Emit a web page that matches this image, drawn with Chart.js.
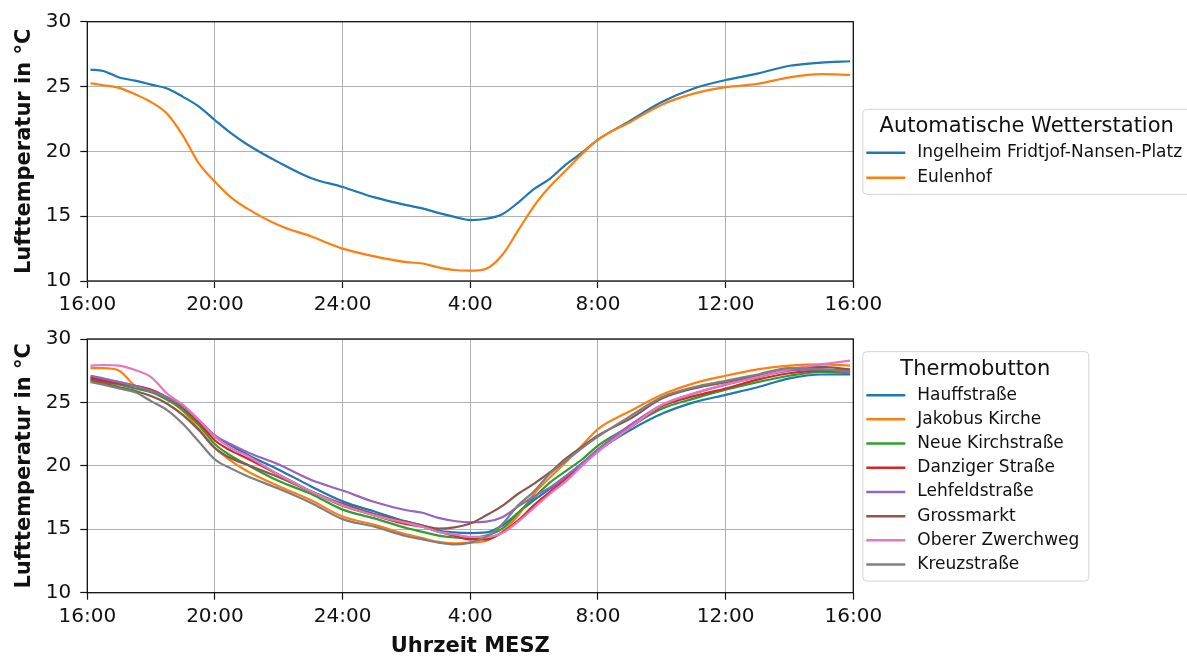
<!DOCTYPE html>
<html>
<head>
<meta charset="utf-8">
<script src="https://cdn.jsdelivr.net/npm/chart.js@4"></script>
<style>
    html, body { margin: 0; padding: 0; background: #fff; overflow: hidden; }
    #oben { position: absolute; left: 0; top: 0; }
    #unten { position: absolute; left: 0; top: 318px; }
</style>
</head>
<body>
<canvas id="oben" width="1187" height="318"></canvas>
<canvas id="unten" width="1187" height="339"></canvas>
<script>
// Stunden seit 16:00 MESZ
const stunden = [0.1, 0.5, 1, 1.5, 2, 2.5, 3, 3.5, 4, 4.5, 5, 6, 7, 8, 9, 10,
    10.5, 11, 11.5, 12, 12.5, 13, 13.5, 14, 14.5, 15, 15.5, 16, 17, 18, 19, 20, 21, 22, 23, 23.9];
const tickStunden = [0, 4, 8, 12, 16, 20, 24];
const tickLabels = ["16:00", "20:00", "24:00", "4:00", "8:00", "12:00", "16:00"];

// Automatische Wetterstation
const stationNamen = ["Ingelheim Fridtjof-Nansen-Platz", "Eulenhof"];
const ingelheim = [26.3, 26.2, 25.7, 25.45, 25.15, 24.85, 24.2, 23.45, 22.4, 21.4, 20.55, 19.15, 17.95, 17.25, 16.45, 15.85,
    15.6, 15.25, 14.95, 14.7, 14.8, 15.15, 16.05, 17.1, 17.9, 19.0, 19.9, 20.9, 22.35, 23.8, 24.85, 25.5, 26.0, 26.6, 26.85, 26.95];
const eulenhof = [25.25, 25.1, 24.9, 24.4, 23.8, 22.9, 21.2, 19.05, 17.65, 16.45, 15.6, 14.3, 13.45, 12.5, 11.9, 11.45,
    11.35, 11.05, 10.85, 10.8, 10.95, 12.0, 13.9, 15.8, 17.3, 18.55, 19.8, 20.9, 22.25, 23.6, 24.45, 24.95, 25.2, 25.7, 25.95, 25.9];

// Thermobutton
const buttonNamen = ["Hauffstraße", "Jakobus Kirche", "Neue Kirchstraße", "Danziger Straße",
    "Lehfeldstraße", "Grossmarkt", "Oberer Zwerchweg", "Kreuzstraße"];
const hauff = [27.0, 26.8, 26.6, 26.3, 25.9, 25.4, 24.6, 23.5, 22.3, 21.6, 20.9, 19.7, 18.4, 17.2, 16.4, 15.6,
    15.3, 14.9, 14.75, 14.7, 14.75, 15.3, 16.3, 17.3, 18.2, 19.2, 20.2, 21.2, 22.8, 24.1, 25.0, 25.6, 26.2, 26.9, 27.2, 27.2];
const jakobus = [27.7, 27.7, 27.5, 26.3, 25.9, 25.3, 24.3, 22.9, 21.4, 20.4, 19.6, 18.4, 17.3, 16.0, 15.35, 14.6,
    14.3, 14.0, 13.9, 13.95, 14.1, 14.8, 16.1, 17.8, 19.1, 20.3, 21.6, 22.9, 24.3, 25.6, 26.5, 27.1, 27.6, 27.9, 28.0, 27.9];
const neueKirch = [26.8, 26.6, 26.4, 26.1, 25.8, 25.2, 24.4, 23.2, 21.7, 20.8, 20.1, 18.8, 17.8, 16.55, 15.86, 15.1,
    14.8, 14.5, 14.35, 14.3, 14.5, 15.05, 16.3, 17.5, 18.7, 19.6, 20.5, 21.6, 23.1, 24.5, 25.3, 26.0, 26.6, 27.1, 27.4, 27.3];
const danziger = [26.9, 26.7, 26.5, 26.3, 26.0, 25.4, 24.6, 23.4, 22.0, 21.2, 20.6, 19.3, 18.0, 16.85, 16.1, 15.4,
    15.2, 14.8, 14.5, 14.2, 14.2, 14.75, 15.7, 16.9, 17.95, 19.0, 20.1, 21.3, 23.0, 24.7, 25.5, 26.1, 26.8, 27.3, 27.5, 27.4];
const lehfeld = [27.1, 26.9, 26.6, 26.3, 25.9, 25.4, 24.7, 23.6, 22.4, 21.7, 21.1, 20.1, 18.9, 18.05, 17.15, 16.5,
    16.3, 15.9, 15.65, 15.55, 15.6, 15.95, 16.8, 17.6, 18.3, 19.2, 20.2, 21.3, 23.2, 24.8, 25.7, 26.4, 27.0, 27.5, 27.6, 27.5];
const grossmarkt = [26.7, 26.5, 26.2, 25.9, 25.5, 24.9, 24.0, 22.8, 21.4, 20.6, 20.1, 19.1, 18.0, 17.0, 16.2, 15.6,
    15.3, 15.05, 15.15, 15.45, 16.1, 16.85, 17.8, 18.6, 19.5, 20.6, 21.5, 22.4, 23.7, 25.3, 26.1, 26.6, 27.1, 27.6, 27.8, 27.6];
const oberer = [27.9, 27.95, 27.9, 27.55, 27.0, 25.7, 24.8, 23.6, 22.3, 21.4, 20.8, 19.3, 18.0, 16.9, 16.1, 15.5,
    15.2, 14.8, 14.6, 14.4, 14.4, 14.7, 15.6, 16.7, 17.8, 18.8, 20.0, 21.1, 23.0, 24.8, 25.7, 26.4, 27.0, 27.6, 28.0, 28.3];
const kreuz = [26.6, 26.4, 26.1, 25.8, 25.1, 24.4, 23.3, 21.9, 20.5, 19.8, 19.2, 18.2, 17.1, 15.8, 15.2, 14.45,
    14.2, 13.95, 13.8, 13.95, 14.4, 15.4, 16.9, 18.0, 19.4, 20.4, 21.4, 22.3, 23.9, 25.4, 26.2, 26.7, 27.2, 27.7, 27.6, 27.4];

const farben = ["#1f77b4", "#ff7f0e", "#2ca02c", "#d62728", "#9467bd", "#8c564b", "#e377c2", "#7f7f7f"];

Chart.defaults.font.family = '"DejaVu Sans", sans-serif';
Chart.defaults.color = "#111";

// Legende im matplotlib-Stil (Kasten mit Titel)
const kastenLegende = {
    id: "kastenLegende",
    afterDraw(chart, args, opts) {
        const { ctx, chartArea } = chart;
        const sets = chart.data.datasets;
        const x0 = chartArea.right + 9;
        ctx.save();
        ctx.font = '17px "DejaVu Sans"';
        const textW = Math.max(...sets.map(d => ctx.measureText(d.label).width));
        ctx.font = '21px "DejaVu Sans"';
        const titelW = ctx.measureText(opts.titel).width;
        const w = Math.max(55 + textW + 9, titelW + 20);
        const h = 18 + 26 + (sets.length - 1) * opts.abstand + 16;
        const y0 = (chartArea.top + chartArea.bottom) / 2 - h / 2;
        ctx.fillStyle = "rgba(255,255,255,0.8)";
        ctx.strokeStyle = "#d4d4d4";
        ctx.lineWidth = 1;
        ctx.beginPath();
        ctx.roundRect(x0 + 0.5, y0 + 0.5, w, h, 4);
        ctx.fill();
        ctx.stroke();
        ctx.fillStyle = "#111";
        ctx.textAlign = "center";
        ctx.textBaseline = "middle";
        ctx.fillText(opts.titel, x0 + w / 2, y0 + 18);
        ctx.font = '17px "DejaVu Sans"';
        ctx.textAlign = "left";
        sets.forEach((d, i) => {
            const y = y0 + 44 + i * opts.abstand;
            ctx.strokeStyle = d.borderColor;
            ctx.lineWidth = 2.5;
            ctx.beginPath();
            ctx.moveTo(x0 + 4, y);
            ctx.lineTo(x0 + 43, y);
            ctx.stroke();
            ctx.fillText(d.label, x0 + 55, y);
        });
        ctx.restore();
    }
};

const rahmen = {
    id: "rahmen",
    afterDatasetsDraw(chart) {
        const { ctx, chartArea: a } = chart;
        ctx.save();
        ctx.strokeStyle = "#111";
        ctx.lineWidth = 1.3;
        ctx.strokeRect(a.left, a.top, a.right - a.left, a.bottom - a.top);
        ctx.restore();
    }
};

function datensaetze(namen, reihen) {
    return reihen.map((werte, i) => ({
        label: namen[i],
        data: stunden.map((h, k) => ({ x: h, y: werte[k] })),
        borderColor: farben[i],
        borderWidth: 2.2,
        pointRadius: 0,
        cubicInterpolationMode: "monotone",
        order: reihen.length - i
    }));
}

const gitter = { color: "#b0b0b0", lineWidth: 1, tickLength: 7, tickColor: "#111", tickWidth: 1.2 };

function achsen(xTitel, xHoehe) {
    return {
        x: {
            type: "linear", min: 0, max: 24,
            afterFit: s => { s.height = xHoehe; },
            afterBuildTicks: s => { s.ticks = tickStunden.map(v => ({ value: v })); },
            ticks: { callback: (v, i) => tickLabels[i], font: { size: 20 }, padding: 5, maxRotation: 0, autoSkip: false },
            grid: gitter,
            border: { display: false },
            title: xTitel
                ? { display: true, text: xTitel, font: { size: 21, weight: "bold", lineHeight: 1 }, padding: 0 }
                : { display: false }
        },
        y: {
            min: 10, max: 30,
            afterFit: s => { s.width = 87.3; },
            ticks: { stepSize: 5, font: { size: 20 }, padding: 9 },
            grid: gitter,
            border: { display: false },
            title: { display: true, text: "Lufttemperatur in °C", font: { size: 21, weight: "bold" }, padding: { top: 12, bottom: 0 } }
        }
    };
}

function zeichne(id, namen, reihen, titel, abstand, padTop, xTitel, xHoehe) {
    new Chart(document.getElementById(id), {
        type: "line",
        data: { datasets: datensaetze(namen, reihen) },
        options: {
            responsive: false,
            animation: false,
            events: [],
            layout: { padding: { top: padTop, right: 333.7, bottom: 0, left: 0 } },
            scales: achsen(xTitel, xHoehe),
            plugins: {
                legend: { display: false },
                tooltip: { enabled: false },
                kastenLegende: { titel: titel, abstand: abstand }
            }
        },
        plugins: [rahmen, kastenLegende]
    });
}

zeichne("oben", stationNamen, [ingelheim, eulenhof], "Automatische Wetterstation", 25, 21.7, null, 37);
zeichne("unten", buttonNamen, [hauff, jakobus, neueKirch, danziger, lehfeld, grossmarkt, oberer, kreuz],
    "Thermobutton", 24.2, 15.3, "Uhrzeit MESZ", 64.3);
</script>
</body>
</html>
